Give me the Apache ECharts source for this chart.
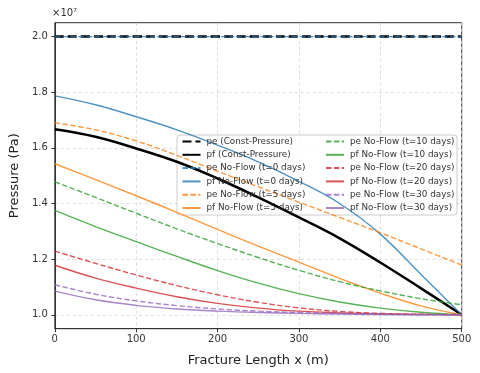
<!DOCTYPE html>
<html>
<head>
<meta charset="utf-8">
<script src="https://cdn.jsdelivr.net/npm/echarts@6/dist/echarts.min.js"></script>
<style>
  html, body { margin: 0; padding: 0; background: #fff; }
  #chart { width: 480px; height: 373px; }
</style>
</head>
<body>
<div id="chart"></div>
<script>
// fracture length positions (m)
var xs = [0, 50, 100, 150, 200, 250, 300, 350, 400, 450, 500];
// pressures in units of 1e7 Pa
var peConst = [2.0, 2.0, 2.0, 2.0, 2.0, 2.0, 2.0, 2.0, 2.0, 2.0, 2.0];
var pfConst = [1.667, 1.64, 1.598, 1.55, 1.49, 1.422, 1.35, 1.275, 1.188, 1.095, 1.0];
var peNF0 = [2.0, 2.0, 2.0, 2.0, 2.0, 2.0, 2.0, 2.0, 2.0, 2.0, 2.0];
var pfNF0 = [1.787, 1.755, 1.712, 1.665, 1.61, 1.55, 1.48, 1.4, 1.29, 1.145, 1.0];
var peNF5 = [1.69, 1.665, 1.625, 1.573, 1.516, 1.46, 1.405, 1.35, 1.295, 1.237, 1.179];
var pfNF5 = [1.543, 1.486, 1.428, 1.368, 1.307, 1.247, 1.189, 1.131, 1.078, 1.032, 1.0];
var peNF10 = [1.478, 1.422, 1.365, 1.309, 1.256, 1.206, 1.16, 1.119, 1.086, 1.058, 1.036];
var pfNF10 = [1.375, 1.317, 1.263, 1.21, 1.159, 1.114, 1.076, 1.046, 1.024, 1.009, 1.0];
var peNF20 = [1.229, 1.185, 1.143, 1.105, 1.072, 1.045, 1.025, 1.012, 1.005, 1.002, 1.001];
var pfNF20 = [1.178, 1.132, 1.096, 1.065, 1.041, 1.024, 1.013, 1.007, 1.003, 1.001, 1.0];
var peNF30 = [1.108, 1.074, 1.05, 1.033, 1.021, 1.013, 1.008, 1.005, 1.003, 1.001, 1.0];
var pfNF30 = [1.085, 1.054, 1.034, 1.021, 1.013, 1.008, 1.005, 1.003, 1.001, 1.0, 1.0];

var yTicks = [1.0, 1.2, 1.4, 1.6, 1.8, 2.0];

var names = [
  'pe (Const-Pressure)', 'pf (Const-Pressure)',
  'pe No-Flow (t=0 days)', 'pf No-Flow (t=0 days)',
  'pe No-Flow (t=5 days)', 'pf No-Flow (t=5 days)',
  'pe No-Flow (t=10 days)', 'pf No-Flow (t=10 days)',
  'pe No-Flow (t=20 days)', 'pf No-Flow (t=20 days)',
  'pe No-Flow (t=30 days)', 'pf No-Flow (t=30 days)'
];
var values = [peConst, pfConst, peNF0, pfNF0, peNF5, pfNF5, peNF10, pfNF10, peNF20, pfNF20, peNF30, pfNF30];
var colors = ['#000000', '#000000', '#1f77b4', '#1f77b4', '#ff7f0e', '#ff7f0e',
              '#2ca02c', '#2ca02c', '#d62728', '#d62728', '#9467bd', '#9467bd'];

function pairs(arr) {
  return xs.map(function (x, i) { return [x, arr[i]]; });
}

var series = names.map(function (n, i) {
  var black = i < 2;
  var dashed = i % 2 === 0;
  return {
    name: n,
    type: 'line',
    symbol: 'none',
    smooth: 0.4,
    color: colors[i],
    lineStyle: {
      color: colors[i],
      width: black ? 2.5 : 1.4,
      type: dashed ? (black ? [9, 4] : [5.5, 2.4]) : 'solid',
      opacity: black ? 1 : 0.8
    },
    data: pairs(values[i])
  };
});

var chart = echarts.init(document.getElementById('chart'));

var legendBase = {
  orient: 'vertical',
  itemWidth: 18,
  itemHeight: 10,
  itemGap: 3.3,
  top: 136.5,
  padding: 0,
  selectedMode: false,
  itemStyle: { color: 'transparent', borderWidth: 0, opacity: 0 },
  textStyle: { fontFamily: 'DejaVu Sans', fontSize: 8.8, color: '#333', padding: [0, 0, 0, 1], lineHeight: 10 }
};

chart.setOption({
  animation: false,
  backgroundColor: '#fff',
  textStyle: { fontFamily: 'DejaVu Sans' },
  grid: {
    left: 51.7, right: 18.3, top: 22.7, bottom: 44.3,
    show: true, borderColor: '#333', borderWidth: 1, backgroundColor: 'transparent'
  },
  xAxis: {
    type: 'value',
    min: 0, max: 500, interval: 100,
    name: 'Fracture Length x (m)',
    nameLocation: 'middle',
    nameGap: 25,
    nameTextStyle: { fontSize: 13, color: '#222', fontFamily: 'DejaVu Sans' },
    axisLine: { show: true, lineStyle: { color: '#333' } },
    axisTick: { show: true, length: 3.5, lineStyle: { color: '#333' } },
    axisLabel: { fontSize: 10, color: '#333', margin: 6, fontFamily: 'DejaVu Sans' },
    splitLine: { show: true, lineStyle: { color: '#d4d4d4', type: [3, 3], width: 0.8 } }
  },
  yAxis: {
    type: 'value',
    min: 0.95, max: 2.05,
    name: 'Pressure (Pa)',
    nameLocation: 'middle',
    nameGap: 33,
    nameTextStyle: { fontSize: 13, color: '#222', fontFamily: 'DejaVu Sans' },
    axisLine: { show: true, lineStyle: { color: '#333' } },
    axisTick: { show: true, length: 3.5, customValues: yTicks, lineStyle: { color: '#333' } },
    axisLabel: {
      fontSize: 10, color: '#333', margin: 7, fontFamily: 'DejaVu Sans',
      customValues: yTicks,
      formatter: function (v) { return v.toFixed(1); }
    },
    splitLine: { show: true, lineStyle: { color: '#d4d4d4', type: [3, 3], width: 0.8 } }
  },
  legend: [
    Object.assign({}, legendBase, { left: 181.5, data: names.slice(0, 6) }),
    Object.assign({}, legendBase, { left: 325, data: names.slice(6) })
  ],
  graphic: [
    {
      type: 'rect', z: 3,
      shape: { x: 177, y: 135, width: 280, height: 80, r: 3 },
      style: { fill: 'rgba(255,255,255,0.8)', stroke: '#cccccc', lineWidth: 1 }
    },
    {
      type: 'text', z: 5, left: 52, top: 8,
      style: { text: '×10⁷', fontSize: 10, fill: '#333', fontFamily: 'DejaVu Sans' }
    }
  ],
  series: series
});
</script>
</body>
</html>
